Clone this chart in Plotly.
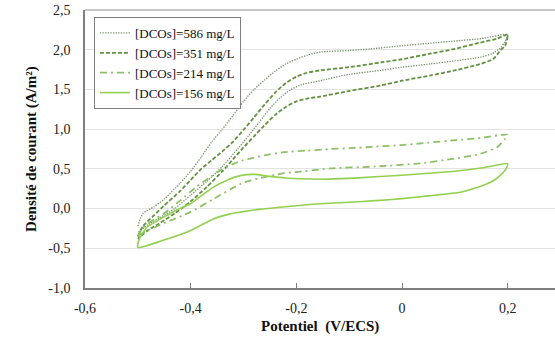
import plotly.graph_objects as go

# ---------------- data ----------------
labels = ["[DCOs]=586 mg/L", "[DCOs]=351 mg/L", "[DCOs]=214 mg/L", "[DCOs]=156 mg/L"]

# 586 mg/L : forward (aller) and backward (retour) scans
x586_aller = [-0.5, -0.49, -0.47, -0.45, -0.42, -0.40, -0.38, -0.36, -0.34, -0.32, -0.30, -0.28,
              -0.26, -0.24, -0.22, -0.20, -0.18, -0.155, -0.10, -0.06, 0.0, 0.05, 0.10, 0.15, 0.2]
y586_aller = [-0.22, -0.06, 0.02, 0.12, 0.32, 0.47, 0.65, 0.84, 1.0, 1.17, 1.35, 1.50,
              1.62, 1.73, 1.82, 1.88, 1.93, 1.97, 1.99, 2.01, 2.05, 2.08, 2.11, 2.14, 2.19]
x586_retour = [0.195, 0.186, 0.17, 0.148, 0.10, 0.053, 0.0, -0.04, -0.10, -0.155, -0.19, -0.21,
               -0.23, -0.25, -0.27, -0.29, -0.31, -0.34, -0.37, -0.40, -0.43, -0.46, -0.48, -0.5]
y586_retour = [2.10, 2.02, 1.95, 1.905, 1.86, 1.82, 1.78, 1.74, 1.69, 1.61, 1.56, 1.50,
               1.40, 1.26, 1.09, 0.92, 0.76, 0.53, 0.34, 0.17, 0.0, -0.12, -0.20, -0.30]

# 351 mg/L
x351_aller = [-0.5, -0.49, -0.47, -0.45, -0.42, -0.40, -0.38, -0.36, -0.34, -0.32, -0.30, -0.28,
              -0.26, -0.24, -0.22, -0.20, -0.18, -0.155, -0.10, -0.04, 0.0, 0.053, 0.10, 0.148, 0.18, 0.2]
y351_aller = [-0.35, -0.22, -0.09, 0.04, 0.22, 0.36, 0.50, 0.61, 0.72, 0.84, 0.99, 1.15,
              1.31, 1.46, 1.58, 1.66, 1.71, 1.74, 1.78, 1.84, 1.88, 1.95, 2.01, 2.09, 2.14, 2.19]
x351_retour = [0.195, 0.186, 0.173, 0.148, 0.10, 0.053, 0.0, -0.04, -0.10, -0.155, -0.18, -0.20,
               -0.22, -0.24, -0.26, -0.28, -0.30, -0.32, -0.34, -0.37, -0.40, -0.43, -0.46, -0.48, -0.5]
y351_retour = [2.05, 1.99, 1.885, 1.82, 1.74, 1.675, 1.61, 1.55, 1.48, 1.41, 1.385, 1.35,
               1.28, 1.18, 1.05, 0.91, 0.77, 0.62, 0.47, 0.27, 0.09, -0.06, -0.19, -0.27, -0.38]

# 214 mg/L
x214_aller = [-0.5, -0.49, -0.47, -0.45, -0.42, -0.39, -0.36, -0.344, -0.32, -0.30, -0.2875,
              -0.26, -0.224, -0.18, -0.136, -0.10, -0.05, 0.0, 0.05, 0.10, 0.15, 0.2]
y214_aller = [-0.35, -0.235, -0.14, -0.06, 0.10, 0.27, 0.41, 0.48, 0.56, 0.61, 0.63,
              0.67, 0.71, 0.73, 0.75, 0.76, 0.78, 0.80, 0.83, 0.86, 0.89, 0.93]
x214_retour = [0.195, 0.18, 0.148, 0.10, 0.034, -0.05, -0.136, -0.20, -0.224, -0.2875, -0.306,
               -0.357, -0.401, -0.445, -0.483, -0.5]
y214_retour = [0.877, 0.772, 0.689, 0.63, 0.57, 0.53, 0.505, 0.46, 0.445, 0.353, 0.31,
               0.12, -0.045, -0.17, -0.28, -0.34]

# 156 mg/L
x156_aller = [-0.5, -0.497, -0.49, -0.483, -0.47, -0.452, -0.43, -0.401, -0.38, -0.357, -0.33,
              -0.306, -0.28, -0.25, -0.22, -0.193, -0.15, -0.10, -0.05, 0.0, 0.05, 0.10, 0.15, 0.2]
y156_aller = [-0.49, -0.38, -0.30, -0.235, -0.18, -0.11, -0.03, 0.06, 0.16, 0.27, 0.36,
              0.415, 0.43, 0.405, 0.385, 0.375, 0.37, 0.38, 0.40, 0.42, 0.445, 0.47, 0.51, 0.563]
x156_retour = [0.197, 0.189, 0.175, 0.16, 0.13, 0.11, 0.05, 0.0, -0.05, -0.10, -0.155, -0.20,
               -0.231, -0.27, -0.306, -0.325, -0.357, -0.401, -0.452, -0.5]
y156_retour = [0.50, 0.437, 0.36, 0.31, 0.24, 0.205, 0.16, 0.125, 0.10, 0.08, 0.06, 0.035,
               0.017, -0.01, -0.045, -0.067, -0.13, -0.28, -0.40, -0.49]

x_ticks = [-0.6, -0.4, -0.2, 0.0, 0.2]
x_ticktext = ["-0,6", "-0,4", "-0,2", "0", "0,2"]
y_ticks = [-1.0, -0.5, 0.0, 0.5, 1.0, 1.5, 2.0, 2.5]
y_ticktext = ["-1,0", "-0,5", "0,0", "0,5", "1,0", "1,5", "2,0", "2,5"]

# ---------------- styling ----------------
serif = "Liberation Serif, Times New Roman, serif"
series = [
    (labels[0], x586_aller + x586_retour, y586_aller + y586_retour, "#76906a", "1.3px,1.3px", 1.3),
    (labels[1], x351_aller + x351_retour, y351_aller + y351_retour, "#62923f", "4px,2px", 1.8),
    (labels[2], x214_aller + x214_retour, y214_aller + y214_retour, "#8dc068", "7px,4px,2px,4px", 1.8),
    (labels[3], x156_aller + x156_retour, y156_aller + y156_retour, "#92d050", "solid", 1.6),
]

fig = go.Figure()
for name, xs, ys, color, dash, w in series:
    fig.add_trace(go.Scatter(
        x=xs, y=ys, mode="lines", name=name,
        line=dict(color=color, dash=dash, width=w, shape="spline", smoothing=0.6),
    ))

fig.update_layout(
    width=555, height=342,
    margin=dict(l=85, r=0, t=10, b=54),
    paper_bgcolor="white", plot_bgcolor="white",
    font=dict(family=serif, size=14, color="#222222"),
    showlegend=True,
    legend=dict(
        x=0.019, y=0.975, xanchor="left", yanchor="top",
        bgcolor="white", bordercolor="#7f7f7f", borderwidth=1,
        font=dict(family=serif, size=13, color="#111111"),
        itemwidth=30, tracegroupgap=0,
    ),
    xaxis=dict(
        range=[-0.6, 0.2896], tickvals=x_ticks, ticktext=x_ticktext,
        showgrid=False, zeroline=False,
        showline=True, linecolor="#7f7f7f", linewidth=1.5,
        ticks="inside", ticklen=5, tickcolor="#7f7f7f",
        tickfont=dict(family=serif, size=14, color="#222222"),
        ticklabelstandoff=6,
    ),
    yaxis=dict(
        range=[-1.0, 2.5], tickvals=y_ticks, ticktext=y_ticktext,
        showgrid=True, gridcolor="#e3e3e3", gridwidth=1,
        zeroline=False,
        showline=True, linecolor="#7f7f7f", linewidth=1.5,
        ticks="", tickfont=dict(family=serif, size=14, color="#222222"),
        ticklabelstandoff=10, ticklabeloverflow="allow",
    ),
    shapes=[dict(type="line", xref="paper", yref="paper", x0=0, x1=1, y0=1, y1=1,
                 line=dict(color="#b5b5b5", width=1.5))],
    annotations=[
        dict(text="<b>Densité de courant (A/m²)</b>", xref="paper", yref="paper",
             x=-0.115, y=0.5, xanchor="center", yanchor="middle", textangle=-90, showarrow=False,
             font=dict(family=serif, size=15, color="#111111")),
        dict(text="<b>Potentiel  (V/ECS)</b>", xref="paper", yref="paper",
             x=0.5, y=-0.14, xanchor="center", yanchor="middle", showarrow=False,
             font=dict(family=serif, size=15, color="#111111")),
    ],
)

# remove the browser's default 8px body margin so the figure fills the window exactly
fig.write_html("out.html",
               config={"displayModeBar": False},
               post_script="document.body.style.margin='0';document.body.style.overflow='hidden';")
